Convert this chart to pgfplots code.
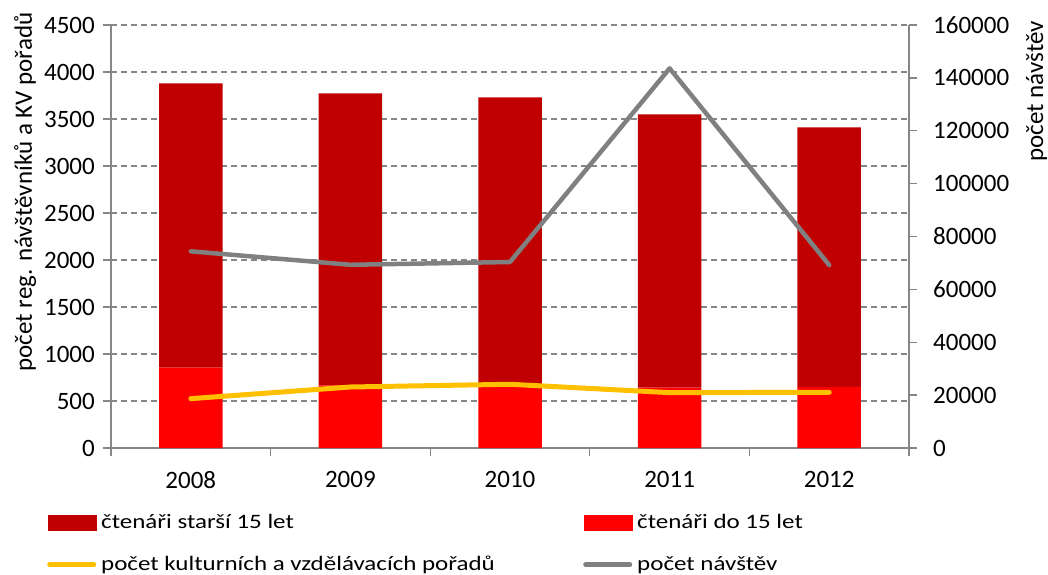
\documentclass[border=0pt]{standalone}
\usepackage{fontspec}
\setmainfont{Carlito}
\usepackage{graphicx}
\usepackage{pgfplots}
\usepackage{pgfplotstable}
\pgfplotsset{compat=1.18}
\definecolor{darkred}{HTML}{C00000}
\definecolor{brightred}{HTML}{FF0000}
\definecolor{yel}{HTML}{FFC000}
\definecolor{gline}{HTML}{808080}
\definecolor{axgray}{HTML}{868686}
\newcommand\tf{\fontsize{25}{29}\selectfont}
\newcommand\lt[1]{\scalebox{1}[0.82]{#1}}

\pgfplotstableread{
x young old
0 855 3025
1 667 3106
2 680 3051
3 642 2908
4 649 2763
}\bars
\pgfplotstableread{
x kv
0 525
1 649
2 678
3 589
4 592
}\kvdata
\pgfplotstableread{
x visits
0 74400
1 69300
2 70350
3 143600
4 69200
}\visdata

\pgfplotsset{common/.style={
  scale only axis, width=798pt, height=423pt,
  at={(111pt,126pt)}, anchor=south west,
  xmin=-0.5, xmax=4.5,
  axis line style={axgray, line width=1.3pt},
  tick style={axgray, line width=1.3pt},
  tick align=outside, major tick length=8pt,
  tick label style={font=\tf},
  /pgf/number format/assume math mode=true,
  /pgf/number format/fixed,
  /pgf/number format/1000 sep={},
  scaled ticks=false,
}}

\begin{document}
\begin{tikzpicture}[x=1pt,y=1pt]
\useasboundingbox (0,0) rectangle (1048,574);
% left axis with bars
\begin{axis}[common,
  ybar stacked, bar width=63.5pt,
  ymin=0, ymax=4500, ytick distance=500,
  axis x line*=bottom, axis y line*=left,
  xtick={-0.5,0.5,1.5,2.5,3.5,4.5}, xticklabels={},
  extra x ticks={0,1,2,3,4},
  extra x tick labels={2008,2009,2010,2011,2012},
  extra x tick style={tick style={draw=none}},
  xticklabel style={anchor=north, inner sep=0pt, yshift=-15pt},
  yticklabel style={anchor=east, inner sep=0pt, xshift=-8pt},
  ymajorgrids, major grid style={axgray, line width=1.3pt, dash pattern=on 6pt off 4pt},
  every axis y label/.style={at={(axis description cs:-0.099,0.605)}, anchor=base, rotate=90, font=\tf},
  ylabel={počet reg. návštěvníků a KV pořadů},
  legend columns=2,
  legend cell align=left,
  legend style={draw=none, fill=none, font=\tf,
    at={(axis description cs:0,0)}, anchor=north west,
    xshift=-64pt, yshift=-65pt, inner sep=0pt,
    column sep=5pt, row sep=23pt,
    nodes={inner sep=0pt, text height=15pt, text depth=4pt}},
]
\addlegendimage{legend image code/.code={\fill[darkred] (0pt,-7.5pt) rectangle (48pt,7.5pt);}}
\addlegendentry{\makebox[477pt][l]{\lt{čtenáři starší 15 let}}}
\addlegendimage{legend image code/.code={\fill[brightred] (0pt,-7.5pt) rectangle (48pt,7.5pt);}}
\addlegendentry{\lt{čtenáři do 15 let}}
\addlegendimage{legend image code/.code={\draw[yel, line width=5pt, line cap=round] (2pt,0pt) -- (46pt,0pt);}}
\addlegendentry{\makebox[477pt][l]{\lt{počet kulturních a vzdělávacích pořadů}}}
\addlegendimage{legend image code/.code={\draw[gline, line width=5pt, line cap=round] (2pt,0pt) -- (46pt,0pt);}}
\addlegendentry{\lt{počet návštěv}}
\addplot[fill=brightred, draw=none, forget plot] table[x=x, y=young] {\bars};
\addplot[fill=darkred, draw=none, forget plot] table[x=x, y=old] {\bars};
\end{axis}
% yellow line on the left scale
\begin{axis}[common,
  ymin=0, ymax=4500, hide axis]
\addplot[yel, line width=5pt, line cap=round, line join=round, sharp plot] table[x=x, y=kv] {\kvdata};
\end{axis}
% right axis with visits
\begin{axis}[common,
  ymin=0, ymax=160000, ytick distance=20000,
  axis x line=none, axis y line*=right,
  yticklabel style={anchor=west, inner sep=0pt, xshift=16pt},
  every axis y label/.style={at={(axis description cs:1.168,0.843)}, anchor=base, rotate=90, font=\tf},
  ylabel={počet návštěv},
]
\addplot[gline, line width=4.5pt, line cap=round, line join=round, sharp plot] table[x=x, y=visits] {\visdata};
\end{axis}
\end{tikzpicture}
\end{document}
